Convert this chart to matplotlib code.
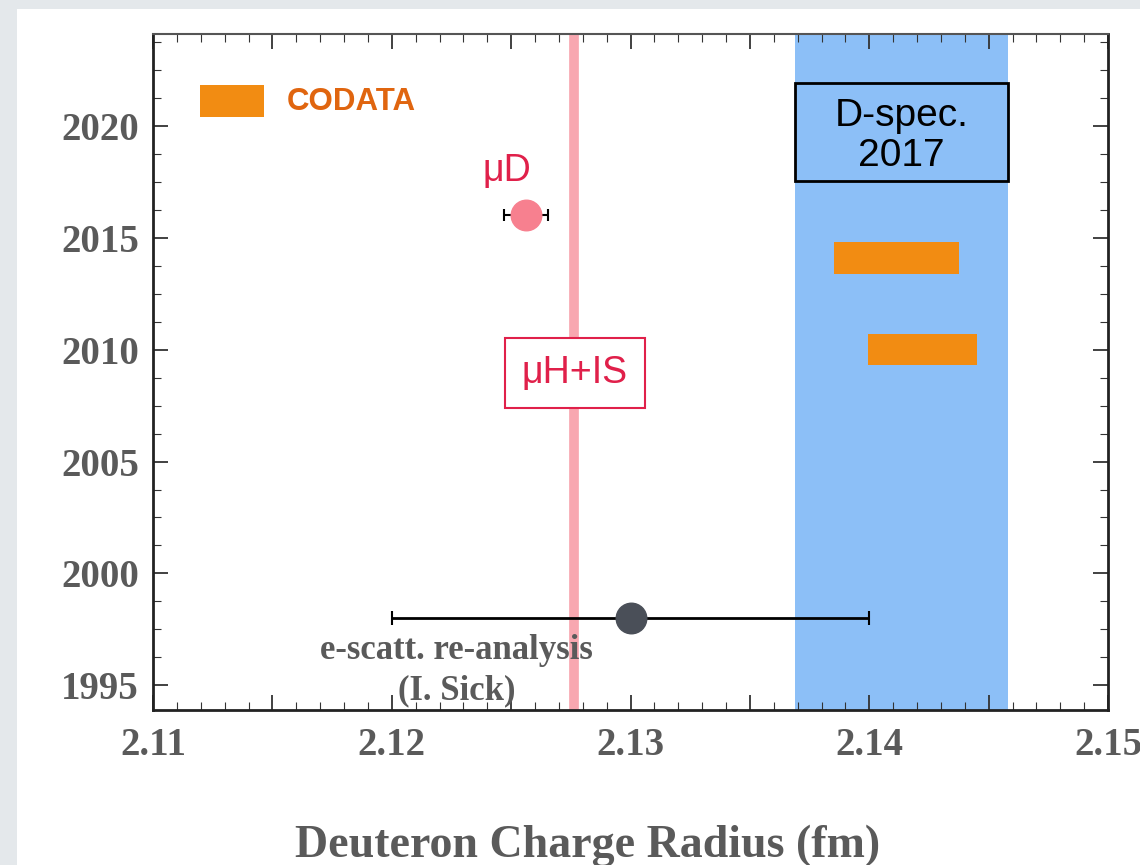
import matplotlib.pyplot as plt
from matplotlib.patches import Rectangle
from matplotlib.ticker import FixedLocator, MultipleLocator

# data
mud_r, mud_err, mud_year = 2.12562, 0.00092, 2016
escatt_r, escatt_err, escatt_year = 2.130, 0.010, 1998
muh_is_r = 2.12765
dspec_lo, dspec_hi = 2.1369, 2.1458
codata_years = [2014.1, 2010.0]
codata_r = [2.14115, 2.14224]
codata_err = [0.00262, 0.00228]

x_ticks = [2.11, 2.115, 2.12, 2.125, 2.13, 2.135, 2.14, 2.145, 2.15]
x_labels = ['2.11', '', '2.12', '', '2.13', '', '2.14', '', '2.15']
y_ticks = [1995, 2000, 2005, 2010, 2015, 2020]

tick_gray = '#5a5a5a'
orange = '#f28c12'
crimson = '#e0204a'

fig = plt.figure(figsize=(11.4, 8.65), dpi=100)
fig.patch.set_facecolor('#e4e8eb')
fig.add_artist(Rectangle((17 / 1140, 0), 1, 1 - 9 / 865, transform=fig.transFigure,
                         facecolor='white', edgecolor='none', zorder=0))

ax = fig.add_axes([153 / 1140, 1 - 710 / 865, 955 / 1140, 676 / 865])
ax.set_facecolor('none')

ax.set_xlim(2.11, 2.15)
ax.set_ylim(1993.9, 2024.1)

# D-spec band and muH+IS line
ax.axvspan(dspec_lo, dspec_hi, color='#8cbff7', zorder=1, lw=0)
ax.axvline(muh_is_r, ymin=0.008, ymax=1, color='#f8a7b0', lw=7, zorder=2)

# CODATA bars
bar_h = 1.4
for yr, r, e in zip(codata_years, codata_r, codata_err):
    ax.add_patch(Rectangle((r - e, yr - bar_h / 2), 2 * e, bar_h,
                           facecolor=orange, edgecolor='none', zorder=3))

# CODATA legend
ax.add_patch(Rectangle((2.11196, 2020.4), 0.00268, 1.4, facecolor=orange,
                       edgecolor='none', zorder=3))
ax.text(2.1156, 2021.05, 'CODATA', color='#e0650f', fontsize=22.5, fontweight='bold',
        family='Liberation Sans', va='center', ha='left')

# muD point
ax.errorbar(mud_r, mud_year, xerr=mud_err, fmt='o', color='#f7808f', ms=22,
            ecolor='black', elinewidth=1.5, capsize=4, capthick=1.5, zorder=5)
ax.text(2.12481, 2018.0, 'μD', color=crimson, fontsize=27, ha='center', va='center',
        family='Liberation Sans')

# e-scattering point
ax.errorbar(escatt_r, escatt_year, xerr=escatt_err, fmt='o', color='#4a4f58', ms=22,
            ecolor='black', elinewidth=2, capsize=5, capthick=1.5, zorder=5)
ax.text(2.12272, 1996.55, 'e-scatt. re-analysis', color=tick_gray, fontsize=25,
        fontweight='bold', family='Liberation Serif', ha='center', va='center', zorder=6)
ax.text(2.12272, 1994.75, '(I. Sick)', color=tick_gray, fontsize=25,
        fontweight='bold', family='Liberation Serif', ha='center', va='center', zorder=6)

# label boxes
ax.text(2.12766, 2008.97, 'μH+IS', color=crimson, fontsize=27, ha='center', va='center',
        family='Liberation Sans', zorder=6,
        bbox=dict(boxstyle='square,pad=0.45', facecolor='white', edgecolor=crimson, lw=1.5))
ax.add_patch(Rectangle((dspec_lo, 2017.55), dspec_hi - dspec_lo, 4.35, facecolor='none',
                       edgecolor='black', lw=2, zorder=6))
ax.text((dspec_lo + dspec_hi) / 2, 2019.55, 'D-spec.\n2017', color='black', fontsize=28,
        ha='center', va='center', family='Liberation Sans', linespacing=1.12, zorder=7)

# ticks
ax.xaxis.set_major_locator(FixedLocator(x_ticks))
ax.set_xticklabels(x_labels)
ax.xaxis.set_minor_locator(MultipleLocator(0.001))
ax.yaxis.set_major_locator(FixedLocator(y_ticks))
ax.yaxis.set_minor_locator(MultipleLocator(1.25))
ax.tick_params(which='both', direction='in', top=True, right=True, color='#333333')
ax.tick_params(which='major', length=11, width=1.3)
ax.tick_params(which='minor', length=6, width=0.8)
ax.tick_params(axis='x', which='major', pad=12)
ax.tick_params(axis='y', which='major', pad=10)
for lab in ax.get_xticklabels() + ax.get_yticklabels():
    lab.set_family('Liberation Serif')
    lab.set_fontweight('bold')
    lab.set_fontsize(28)
    lab.set_color(tick_gray)

for side in ['left', 'bottom', 'right']:
    ax.spines[side].set_linewidth(2)
    ax.spines[side].set_color('#222222')
ax.spines['top'].set_linewidth(1.5)
ax.spines['top'].set_color('#555555')

fig.text(588 / 1140, 1 - 846 / 865, 'Deuteron Charge Radius (fm)', family='Liberation Serif',
         fontweight='bold', fontsize=33, color=tick_gray, ha='center', va='center')

fig.savefig('out.png', dpi=100, facecolor=fig.get_facecolor())
